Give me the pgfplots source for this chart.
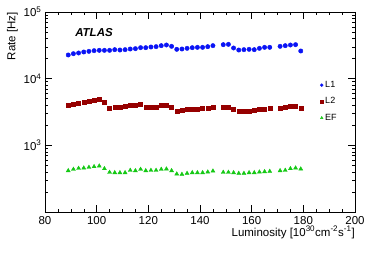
\documentclass[border=0pt]{standalone}
\usepackage{fontspec}
\setmainfont{Liberation Sans}
\usepackage{pgfplots}
\usepackage{pgfplotstable}
\pgfplotsset{compat=1.18}
\definecolor{lone}{RGB}{10,20,245}
\definecolor{ltwo}{RGB}{150,0,0}
\definecolor{ef}{RGB}{20,200,20}
\pgfplotstableread{
x y
89 22650
91 23700
93 24270
95 25120
97 25700
99 26300
101 26600
103 26600
105 26600
107 27230
109 26900
111 27230
113 27860
115 28180
117 29170
119 29170
121 29850
123 30200
125 31260
127 31990
129 30550
131 27540
133 27860
135 28510
137 29170
139 29510
141 29510
143 30200
145 31260
149 32360
151 32730
153 28840
155 26900
157 27230
159 27540
161 27230
163 28510
165 29510
167 29510
171 30550
173 31260
175 31990
177 32360
179 26000
}\Lone
\pgfplotstableread{
x y
89 4027
91 4169
93 4315
95 4416
97 4571
99 4732
101 4842
103 4365
105 3631
107 3715
109 3715
111 3802
113 3936
115 3981
117 4074
119 3673
121 3758
123 3758
125 3936
127 3981
129 3758
131 3273
133 3311
135 3428
137 3508
139 3508
141 3548
143 3631
145 3758
149 3758
151 3758
153 3428
155 3199
157 3236
159 3273
161 3311
163 3428
165 3508
167 3548
171 3631
173 3715
175 3802
177 3802
179 3548
}\Ltwo
\pgfplotstableread{
x y
89 417
91 437
93 452
95 457
97 468
99 479
101 490
103 447
105 394
107 389
109 389
111 389
113 422
115 417
117 437
119 417
121 422
123 422
125 437
127 442
129 417
131 372
133 367
135 380
137 389
139 389
141 389
143 398
145 412
149 394
151 394
153 389
155 380
157 380
159 389
161 389
163 398
165 403
167 407
171 417
173 422
175 447
177 457
179 442
}\EF
\begin{document}
\begin{tikzpicture}
\begin{axis}[
  scale only axis,
  width=310pt, height=200pt,
  ymode=log,
  xmin=80, xmax=200, ymin=100, ymax=100000,
  xtick={80,100,...,200},
  minor x tick num=3,
  ytick={100,1000,10000,100000},
  yticklabels={,10\textsuperscript{3},10\textsuperscript{4},10\textsuperscript{5}},
  /pgf/number format/assume math mode=true,
  tick align=inside,
  major tick length=7pt,
  minor tick length=3.5pt,
  tick style={black, line width=0.5pt},
  axis line style={line width=0.8pt},
  tick label style={font=\fontsize{11.5}{12}\selectfont},
  xticklabel style={yshift=-1pt},
  label style={font=\fontsize{11.5}{12}\selectfont},
  xlabel={Luminosity [10\textsuperscript{30}cm\textsuperscript{-2}s\textsuperscript{-1}]},
  xlabel style={at={(axis description cs:1,-0.07)}, anchor=north east, inner sep=0pt},
  ylabel={Rate [Hz]},
  ylabel style={at={(axis description cs:-0.087,1)}, anchor=south east, inner sep=0pt},
  legend style={at={(axis description cs:0.884,0.67)}, anchor=north west, draw=none, fill=none,
    font=\fontsize{9}{10}\selectfont, row sep=4.7pt, inner sep=1pt},
  legend image post style={mark size=1.5pt},
  legend cell align=left,
]
\addplot[only marks, mark=*, mark size=2.2pt, color=lone] table {\Lone};
\addplot[only marks, mark=square*, mark size=2pt, color=ltwo] table {\Ltwo};
\addplot[only marks, mark=triangle*, mark size=2.3pt, color=ef] table {\EF};
\legend{L1,L2,EF}
\node[anchor=west, inner sep=0pt, font=\fontsize{11.5}{12}\selectfont\bfseries\itshape] at (axis description cs:0.097,0.895) {ATLAS};
\end{axis}
\pgfresetboundingbox
\useasboundingbox ([shift={(-45pt,-41pt)}]current axis.south west) rectangle ([shift={(19pt,12pt)}]current axis.north east);
\end{tikzpicture}
\end{document}
